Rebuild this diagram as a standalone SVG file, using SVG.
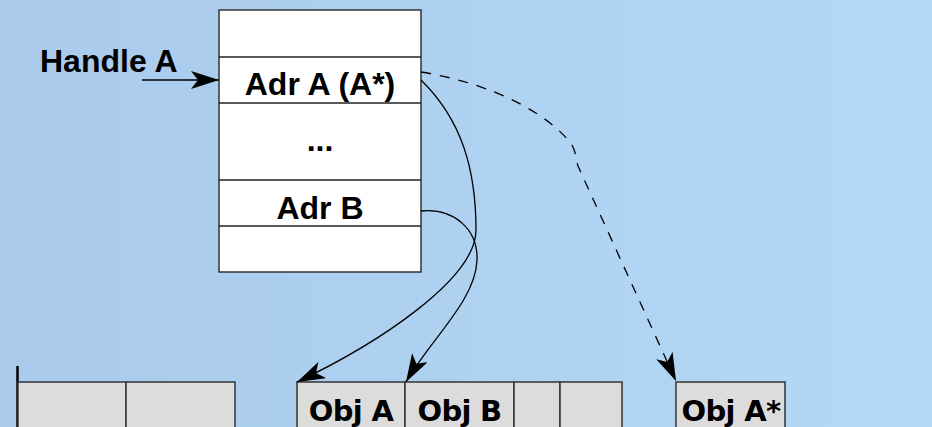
<svg xmlns="http://www.w3.org/2000/svg" width="932" height="427" viewBox="0 0 932 427">
  <defs>
    <linearGradient id="bg" x1="0" y1="0" x2="1" y2="0">
      <stop offset="0" stop-color="#aacaec"/>
      <stop offset="1" stop-color="#b3d9f6"/>
    </linearGradient>
    <marker id="arrow" viewBox="0 0 28 18" refX="28" refY="9" markerWidth="28" markerHeight="18" markerUnits="userSpaceOnUse" orient="auto">
      <path d="M0,0 L28,9 L0,18 L7,9 Z" fill="#000"/>
    </marker>
    <style>
      .cell { fill: #ffffff; stroke: #333; stroke-width: 1.5; }
      .obj { fill: #dcdcdc; stroke: #333; stroke-width: 1.5; }
      .sep { stroke: #222; stroke-width: 1.5; }
      .lbl { font-family: "Liberation Sans", Arial, sans-serif; font-weight: bold; font-size: 32px; fill: #000; }
      .olbl { font-family: "DejaVu Sans", Verdana, sans-serif; font-weight: bold; font-size: 29px; letter-spacing: -0.7px; fill: #000; text-anchor: middle; }
      .link { fill: none; stroke: #000; stroke-width: 1.3; }
      .dash { stroke-dasharray: 10 9; }
    </style>
  </defs>

  <rect width="932" height="427" fill="url(#bg)"/>

  <!-- handle label -->
  <g id="handle-a">
    <text class="lbl" x="40" y="72">Handle A</text>
  </g>

  <!-- handle table -->
  <g id="handle-table">
    <rect class="cell" x="219" y="10" width="202" height="262"/>
    <line class="sep" x1="219" y1="57" x2="421" y2="57"/>
    <line class="sep" x1="219" y1="103" x2="421" y2="103"/>
    <line class="sep" x1="219" y1="180" x2="421" y2="180"/>
    <line class="sep" x1="219" y1="226" x2="421" y2="226"/>
  </g>
  <g id="slot-adr-a">
    <text class="lbl" x="320" y="95" text-anchor="middle">Adr A (A*)</text>
  </g>
  <g id="slot-dots">
    <text class="lbl" x="320" y="151" text-anchor="middle">...</text>
  </g>
  <g id="slot-adr-b">
    <text class="lbl" x="320" y="219" text-anchor="middle">Adr B</text>
  </g>

  <!-- memory area left -->
  <g id="heap-left">
    <line x1="17.5" y1="366" x2="17.5" y2="427" stroke="#000" stroke-width="2.5"/>
    <rect class="obj" x="18" y="382" width="108" height="60"/>
    <rect class="obj" x="126" y="382" width="109" height="60"/>
  </g>

  <!-- memory area with objects -->
  <g id="obj-a">
    <rect class="obj" x="297" y="382" width="108" height="60"/>
    <text class="olbl" x="351" y="421">Obj A</text>
  </g>
  <g id="obj-b">
    <rect class="obj" x="405" y="382" width="109" height="60"/>
    <text class="olbl" x="459.5" y="421">Obj B</text>
  </g>
  <g id="free-1">
    <rect class="obj" x="514" y="382" width="46" height="60"/>
  </g>
  <g id="free-2">
    <rect class="obj" x="560" y="382" width="62" height="60"/>
  </g>
  <g id="obj-a-star">
    <rect class="obj" x="676" y="382" width="109" height="60"/>
    <text class="olbl" x="731" y="421">Obj A*</text>
  </g>

  <!-- connectors -->
  <g id="connectors">
    <path class="link" d="M142,80 L219,80" marker-end="url(#arrow)"/>
    <path class="link" d="M421,80 C462,120 476,170 476,230 C476,280 375,345 297,382" marker-end="url(#arrow)"/>
    <path class="link" d="M421,211 C455,208 478,230 477,260 C476,300 430,340 406,382" marker-end="url(#arrow)"/>
    <path class="link dash" d="M421,72 C495,84 550,115 572,145 C576,152 576,160 578,166 L676,381" marker-end="url(#arrow)"/>
  </g>
</svg>
